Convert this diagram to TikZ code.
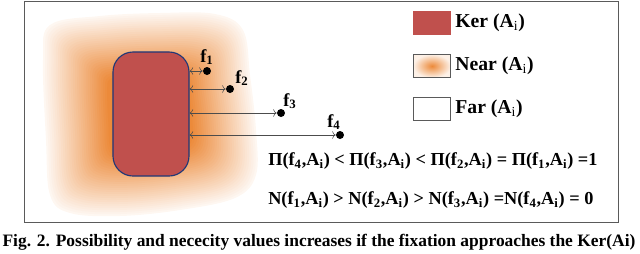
\documentclass[tikz,border=0pt]{standalone}
\usepackage{fontspec}
\setmainfont{Liberation Serif}
\usetikzlibrary{positioning,arrows.meta}
\definecolor{KerRed}{RGB}{192,80,77}
\definecolor{KerEdge}{RGB}{31,56,120}
\definecolor{NearOrange}{RGB}{236,138,58}
\definecolor{FrameGray}{RGB}{90,90,90}

\begin{document}
\begin{tikzpicture}[x=0.025cm, y=-0.025cm, font=\bfseries,
  every node/.style={align=center},
  legbox/.style={draw=FrameGray, minimum width=0.93cm, minimum height=0.58cm, inner sep=0pt},
  legtext/.style={anchor=west, inner sep=1pt, font=\fontsize{14}{16}\selectfont\bfseries},
  fdot/.style={circle, fill=black, inner sep=0pt, minimum size=0.2cm},
  flabel/.style={inner sep=0pt, font=\fontsize{13}{15}\selectfont\bfseries},
  eqtext/.style={anchor=west, inner sep=0pt, font=\fontsize{13}{15}\selectfont\bfseries},
  dist/.style={{To[length=2.5pt]}-{To[length=2.5pt]}, thin, gray!60!black}]
  \useasboundingbox (0,0) rectangle (640,253);
  \draw[FrameGray, line width=0.7pt] (24,1) rectangle (618,222);
  % near region: layers from pale edge to orange core
  \foreach \k in {0,...,30} {
    \pgfmathsetmacro\s{1-\k*0.02}
    \pgfmathsetmacro\p{7+\k*3.1}
    \begin{scope}[shift={(150,115)}, scale=\s]
      \fill[NearOrange!\p!white] plot[smooth cycle, tension=0.6] coordinates {
        (-100,-90) (-50,-99) (10,-102) (65,-101) (93,-85) (100,-40)
        (106,15) (106,60) (85,83) (30,95) (-30,101) (-80,98)
        (-100,80) (-104,25) (-107,-55)};
    \end{scope}
  }
  \node[draw=KerEdge, fill=KerRed, line width=0.8pt, rounded corners=0.5cm,
        minimum width=1.9cm, minimum height=3.1cm] (ker) at (151,114) {};
  \node[fdot] (p1) at (207,71) {};
  \node[fdot] (p2) at (230,89) {};
  \node[fdot] (p3) at (281,113) {};
  \node[fdot] (p4) at (340,135) {};
  \node[flabel] (l1) at (207,57) {f\textsubscript{1}};
  \node[flabel] (l2) at (242,78) {f\textsubscript{2}};
  \node[flabel] (l3) at (290,101) {f\textsubscript{3}};
  \node[flabel] (l4) at (334,122) {f\textsubscript{4}};
  \foreach \p in {p1,p2,p3,p4}
    \draw[dist] (ker.east |- \p) -- (\p);
  % legend
  \node[legbox, fill=KerRed, draw=KerRed] (kerbox) at (432,23) {};
  \node[legbox, shade, inner color=NearOrange, outer color=NearOrange!12!white] (nearbox) at (432,66) {};
  \node[legbox, fill=white] (farbox) at (432,109) {};
  \node[legtext, right=2pt of kerbox] (kertext) {Ker (A\textsubscript{\normalfont i})};
  \node[legtext, right=2pt of nearbox] (neartext) {Near (A\textsubscript{\normalfont i})};
  \node[legtext, right=2pt of farbox] (fartext) {Far (A\textsubscript{\normalfont i})};
  % relations
  \node[eqtext] (poss) at (268,161) {Π(f\textsubscript{4},A\textsubscript{i}) < Π(f\textsubscript{3},A\textsubscript{i}) < Π(f\textsubscript{2},A\textsubscript{i}) = Π(f\textsubscript{1},A\textsubscript{i}) =1};
  \node[eqtext] (nec) at (268,200) {N(f\textsubscript{1},A\textsubscript{i}) > N(f\textsubscript{2},A\textsubscript{i}) > N(f\textsubscript{3},A\textsubscript{i}) =N(f\textsubscript{4},A\textsubscript{i}) = 0};
  \node[font=\fontsize{12.4}{14}\selectfont\bfseries] (caption) at (319,242)
    {Fig. 2. Possibility and nececity values increases if the fixation approaches the Ker(Ai)};
\end{tikzpicture}
\end{document}
